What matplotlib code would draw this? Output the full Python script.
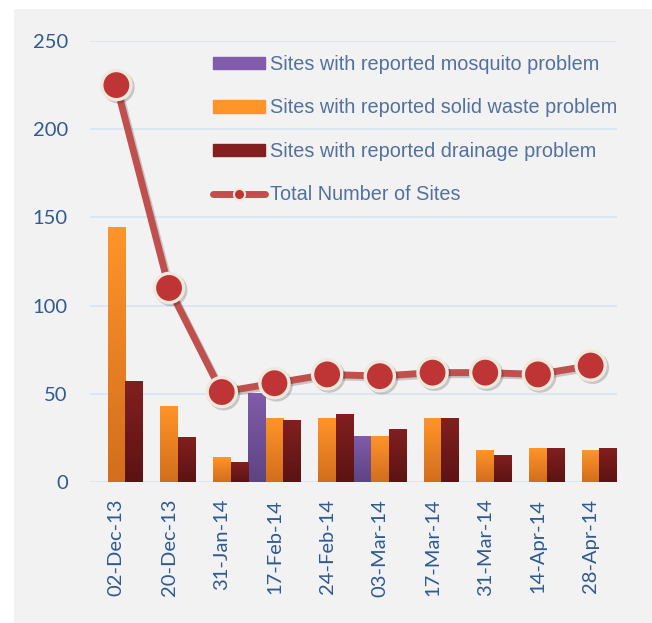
import matplotlib
matplotlib.use("Agg")
import matplotlib.pyplot as plt
import matplotlib.patheffects as pe
from matplotlib.colors import to_rgb
from matplotlib.patches import Rectangle
from matplotlib.lines import Line2D
import numpy as np

dates = ["02-Dec-13", "20-Dec-13", "31-Jan-14", "17-Feb-14", "24-Feb-14",
         "03-Mar-14", "17-Mar-14", "31-Mar-14", "14-Apr-14", "28-Apr-14"]
mosquito = [0, 0, 0, 50, 0, 26, 0, 0, 0, 0]
solid_waste = [144, 43, 14, 36, 36, 26, 36, 18, 19, 18]
drainage = [57, 25, 11, 35, 38, 30, 36, 15, 19, 19]
total_sites = [225, 110, 51, 56, 61, 60, 62, 62, 61, 66]

labels = ["Sites with reported mosquito problem",
          "Sites with reported solid waste problem",
          "Sites with reported drainage problem",
          "Total Number of Sites"]

# (top colour, bottom colour) of each bar gradient
grad_cols = [("#805caa", "#5d4483"),
             ("#ff9429", "#d26e1d"),
             ("#821f1f", "#5c1313")]

fig = plt.figure(figsize=(6.52, 6.23), dpi=100)
fig.patch.set_facecolor("white")
fig.patches.append(Rectangle((14 / 652, 0), 1, 1 - 9 / 623, transform=fig.transFigure,
                             facecolor="#f2f2f2", edgecolor="none", zorder=-10))

ax = fig.add_axes([90 / 652, 1 - 482 / 623, 527 / 652, 441 / 623])
ax.set_facecolor("none")

x = np.arange(len(dates))
w = 1 / 3


def gradient_bars(vals, offset, cols):
    bars = ax.bar(x + offset, vals, w, color=cols[0], zorder=2)
    top, bot = np.array(to_rgb(cols[0])), np.array(to_rgb(cols[1]))
    t = np.linspace(0, 1, 64)[:, None, None]
    img = top * (1 - t) + bot * t
    for b in bars:
        h = b.get_height()
        if h <= 0:
            continue
        b.set_facecolor("none")
        b.set_edgecolor("none")
        ax.imshow(img, extent=(b.get_x(), b.get_x() + b.get_width(), 0, h),
                  aspect="auto", interpolation="bilinear", zorder=2)
    return bars


gradient_bars(mosquito, -w, grad_cols[0])
gradient_bars(solid_waste, 0, grad_cols[1])
gradient_bars(drainage, w, grad_cols[2])

ax.plot(x, total_sites, color="#c0504d", lw=5, zorder=4, solid_capstyle="round",
        marker="o", ms=21, mfc="#bf3434", mec="#eee9dc", mew=2.4, clip_on=False,
        path_effects=[pe.SimpleLineShadow(offset=(1.5, -1.5), alpha=0.18), pe.Normal()])

ax.set_xlim(-0.5, len(dates) - 0.5)
ax.set_ylim(0, 250)
ax.set_yticks([0, 50, 100, 150, 200, 250])
ax.grid(axis="y", color="#d7e4f2", lw=1.2, zorder=0)
ax.set_axisbelow(True)
for s in ax.spines.values():
    s.set_visible(False)

ax.set_xticks(x)
ax.set_xticklabels(dates, rotation=90, family="Lato", fontsize=14.5, color="#2f5a92")
ax.tick_params(axis="x", length=0, pad=12)
ax.tick_params(axis="y", length=0, pad=16, labelsize=14.5, labelcolor="#2f5a92")
for t in ax.get_yticklabels():
    t.set_family("Lato")

handles = [Rectangle((0, 0), 1, 1, color=grad_cols[0][0]),
           Rectangle((0, 0), 1, 1, color=grad_cols[1][0]),
           Rectangle((0, 0), 1, 1, color=grad_cols[2][0]),
           Line2D([], [], color="#c0504d", lw=5, solid_capstyle="round",
                  marker="o", ms=8, mfc="#bf3434", mec="#eee9dc", mew=1.5)]
leg = fig.legend(handles, labels, loc="upper left", bbox_to_anchor=(213 / 652, 1 - 55 / 623),
                 frameon=False, borderpad=0, borderaxespad=0, handlelength=2.6,
                 handleheight=0.6, handletextpad=0.25, labelspacing=1.23,
                 prop={"family": "Liberation Sans", "size": 14.3})
for t in leg.get_texts():
    t.set_color("#52719f")

fig.savefig("out.png", dpi=100)
